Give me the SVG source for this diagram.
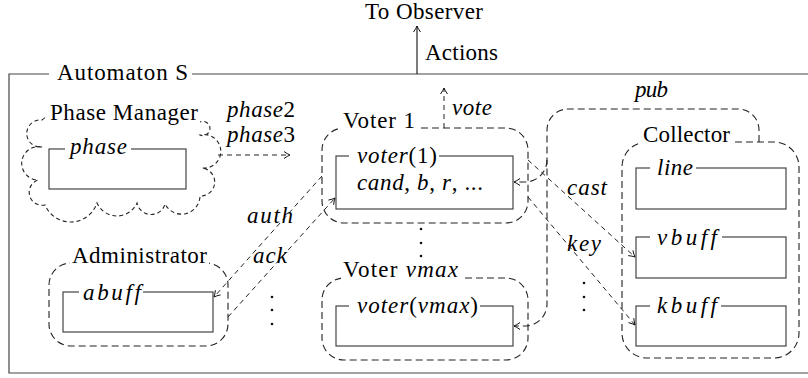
<svg xmlns="http://www.w3.org/2000/svg" width="808" height="378" viewBox="0 0 808 378">
  <rect width="808" height="378" fill="#fff"/>

  <!-- outer automaton frame -->
  <g id="automaton">
    <path d="M49,74 H9 V373 H808 M192,74 H808" fill="none" stroke="#444" stroke-width="1.2"/>
    <text x="57" y="80" font-size="23" font-family="'Liberation Serif', serif" textLength="131" lengthAdjust="spacing">Automaton S</text>
  </g>

  <!-- observer output -->
  <g id="observer">
    <text x="365" y="19" font-size="23" font-family="'Liberation Serif', serif" textLength="118" lengthAdjust="spacing">To Observer</text>
    <text x="425" y="60" font-size="23" font-family="'Liberation Serif', serif" textLength="73" lengthAdjust="spacing">Actions</text>
  </g>

  <!-- connectors -->
  <g id="connectors" fill="none" stroke="#222" stroke-width="1">
    <path d="M417,74 V26" stroke="#111" stroke-width="1.1"/>
    <g stroke-dasharray="5 4">
      <path d="M444,128 V88"/>
      <path d="M218,155 H290"/>
      <path d="M322,176 L214,297"/>
      <path d="M228,317 L335,198"/>
      <path d="M528,160 L635,257"/>
      <path d="M528,197 L635,325"/>
    </g>
    <g stroke-dasharray="7 4" stroke-width="1.1">
      <path d="M759,142 V130 A21,21 0 0 0 738,109 H568 A21,21 0 0 0 547,130 V304 A22,22 0 0 1 525,326 H514"/>
      <path d="M547,160 A22,22 0 0 1 525,182 H514"/>
    </g>
    <!-- open arrow tips -->
    <g stroke="#111">
      <path d="M420.5,32 Q418,28.5 417,26 Q416,28.5 413.5,32"/>
      <path d="M447.5,94 Q445,90.5 444,88 Q443,90.5 440.5,94"/>
      <path d="M284,158.5 Q287.5,156 290,155 Q287.5,154 284,151.5"/>
      <path d="M220.6,294.9 Q216.4,295.8 214,297 Q214.9,294.5 215.4,290.2"/>
      <path d="M333.6,204.8 Q334.1,200.5 335,198 Q332.6,199.2 328.4,200.1"/>
      <path d="M628.2,255.6 Q632.5,256.1 635,257 Q633.8,254.6 632.9,250.4"/>
      <path d="M628.5,322.6 Q632.6,323.7 635,325 Q634.2,322.4 633.8,318.2"/>
      <path d="M520,322.5 Q516.5,325 514,326 Q516.5,327 520,329.5"/>
      <path d="M520,178.5 Q516.5,181 514,182 Q516.5,183 520,185.5"/>
    </g>
  </g>

  <!-- connector labels -->
  <g id="connector-labels">
    <text x="227" y="117" font-size="23" font-family="'Liberation Serif', serif" textLength="68" lengthAdjust="spacing"><tspan font-family="'Liberation Serif', serif" font-style="italic">phase</tspan><tspan font-family="'Liberation Serif', serif">2</tspan></text>
    <text x="227" y="142" font-size="23" font-family="'Liberation Serif', serif" textLength="68" lengthAdjust="spacing"><tspan font-family="'Liberation Serif', serif" font-style="italic">phase</tspan><tspan font-family="'Liberation Serif', serif">3</tspan></text>
    <text x="452" y="115" font-size="23" font-family="'Liberation Serif', serif" font-style="italic" textLength="40" lengthAdjust="spacing">vote</text>
    <text x="247" y="223" font-size="23" font-family="'Liberation Serif', serif" font-style="italic" textLength="46" lengthAdjust="spacing">auth</text>
    <text x="253" y="263" font-size="23" font-family="'Liberation Serif', serif" font-style="italic" textLength="34" lengthAdjust="spacing">ack</text>
    <text x="567" y="195" font-size="23" font-family="'Liberation Serif', serif" font-style="italic" textLength="40" lengthAdjust="spacing">cast</text>
    <text x="567" y="251" font-size="23" font-family="'Liberation Serif', serif" font-style="italic" textLength="34" lengthAdjust="spacing">key</text>
    <text x="635" y="97" font-size="23" font-family="'Liberation Serif', serif" font-style="italic" textLength="33" lengthAdjust="spacing">pub</text>
  </g>

  <!-- continuation dots -->
  <g id="dots" fill="#111">
    <circle cx="421" cy="229" r="1.3"/>
    <circle cx="421" cy="243" r="1.3"/>
    <circle cx="421" cy="256" r="1.3"/>
    <circle cx="272" cy="297" r="1.3"/>
    <circle cx="272" cy="310" r="1.3"/>
    <circle cx="272" cy="324" r="1.3"/>
    <circle cx="584" cy="283" r="1.3"/>
    <circle cx="584" cy="297" r="1.3"/>
    <circle cx="584" cy="310" r="1.3"/>
  </g>

  <!-- phase manager -->
  <g id="phase-manager">
    <path d="M42,120 A36.6,36.6 0 0 1 85,117 A32,32 0 0 1 125,117 A32,32 0 0 1 165,117 A25.9,25.9 0 0 1 200,122 A7.1,7.1 0 1 1 200,135 A16.8,16.8 0 1 1 202,168 A14.04,14.04 0 0 1 200,196 A18.5,18.5 0 0 1 165,204 A14.4,14.4 0 0 1 137,203 A21.9,21.9 0 0 1 97,203 A27.8,27.8 0 0 1 45,205 A13,13 0 0 1 38,180 A16.7,16.7 0 1 1 42,147 A13.6,13.6 0 1 1 42,120 Z" fill="none" stroke="#222" stroke-width="1.1" stroke-dasharray="4 3"/>
    <rect x="47" y="101" width="153" height="23" fill="#fff"/>
    <text x="50" y="120" font-size="23" font-family="'Liberation Serif', serif" textLength="148" lengthAdjust="spacing">Phase Manager</text>
    <rect x="49" y="149" width="137" height="40" fill="none" stroke="#333" stroke-width="1.1"/>
    <rect x="65" y="141" width="66" height="16" fill="#fff"/>
    <text x="70" y="154" font-size="23" font-family="'Liberation Serif', serif" font-style="italic" textLength="57" lengthAdjust="spacing">phase</text>
  </g>

  <!-- voter 1 -->
  <g id="voter-1">
    <rect x="322" y="128" width="206" height="95" rx="22" fill="none" stroke="#222" stroke-width="1.1" stroke-dasharray="7 4"/>
    <rect x="341" y="110" width="76" height="21" fill="#fff"/>
    <text x="343" y="128" font-size="23" font-family="'Liberation Serif', serif" textLength="72" lengthAdjust="spacing">Voter 1</text>
    <rect x="336" y="156" width="177" height="53" fill="none" stroke="#333" stroke-width="1.1"/>
    <rect x="349" y="146" width="90" height="18" fill="#fff"/>
    <text x="357" y="163" font-size="23" font-family="'Liberation Serif', serif" textLength="80" lengthAdjust="spacing"><tspan font-family="'Liberation Serif', serif" font-style="italic">voter</tspan><tspan font-family="'Liberation Serif', serif">(1)</tspan></text>
    <text x="357" y="190" font-size="23" font-family="'Liberation Serif', serif" textLength="126" lengthAdjust="spacing"><tspan font-family="'Liberation Serif', serif" font-style="italic">cand</tspan><tspan font-family="'Liberation Serif', serif">, </tspan><tspan font-family="'Liberation Serif', serif" font-style="italic">b</tspan><tspan font-family="'Liberation Serif', serif">, </tspan><tspan font-family="'Liberation Serif', serif" font-style="italic">r</tspan><tspan font-family="'Liberation Serif', serif">, ...</tspan></text>
  </g>

  <!-- voter vmax -->
  <g id="voter-vmax">
    <rect x="322" y="278" width="206" height="82" rx="22" fill="none" stroke="#222" stroke-width="1.1" stroke-dasharray="7 4"/>
    <rect x="341" y="260" width="120" height="21" fill="#fff"/>
    <text x="343" y="277" font-size="23" font-family="'Liberation Serif', serif" textLength="115" lengthAdjust="spacing"><tspan font-family="'Liberation Serif', serif">Voter </tspan><tspan font-family="'Liberation Serif', serif" font-style="italic">vmax</tspan></text>
    <rect x="336" y="306" width="177" height="40" fill="none" stroke="#333" stroke-width="1.1"/>
    <rect x="349" y="296" width="131" height="18" fill="#fff"/>
    <text x="357" y="313" font-size="23" font-family="'Liberation Serif', serif" textLength="121" lengthAdjust="spacing"><tspan font-family="'Liberation Serif', serif" font-style="italic">voter</tspan><tspan font-family="'Liberation Serif', serif">(</tspan><tspan font-family="'Liberation Serif', serif" font-style="italic">vmax</tspan><tspan font-family="'Liberation Serif', serif">)</tspan></text>
  </g>

  <!-- administrator -->
  <g id="administrator">
    <rect x="49" y="263" width="179" height="83" rx="22" fill="none" stroke="#222" stroke-width="1.1" stroke-dasharray="7 4"/>
    <rect x="70" y="246" width="139" height="20" fill="#fff"/>
    <text x="72" y="263" font-size="23" font-family="'Liberation Serif', serif" textLength="135" lengthAdjust="spacing">Administrator</text>
    <rect x="63" y="292" width="150" height="40" fill="none" stroke="#333" stroke-width="1.1"/>
    <rect x="79" y="283" width="64" height="17" fill="#fff"/>
    <text x="83" y="300" font-size="23" font-family="'Liberation Serif', serif" font-style="italic" textLength="58" lengthAdjust="spacing">abuff</text>
  </g>

  <!-- collector -->
  <g id="collector">
    <rect x="622" y="142" width="177" height="216" rx="25" fill="none" stroke="#222" stroke-width="1.1" stroke-dasharray="7 4"/>
    <rect x="640" y="125" width="92" height="20" fill="#fff"/>
    <text x="643" y="142" font-size="23" font-family="'Liberation Serif', serif" textLength="87" lengthAdjust="spacing">Collector</text>
    <rect x="636" y="168" width="150" height="41" fill="none" stroke="#333" stroke-width="1.1"/>
    <rect x="650" y="160" width="46" height="16" fill="#fff"/>
    <text x="657" y="175" font-size="23" font-family="'Liberation Serif', serif" font-style="italic" textLength="36" lengthAdjust="spacing">line</text>
    <rect x="636" y="237" width="150" height="41" fill="none" stroke="#333" stroke-width="1.1"/>
    <rect x="650" y="229" width="72" height="16" fill="#fff"/>
    <text x="657" y="245" font-size="23" font-family="'Liberation Serif', serif" font-style="italic" textLength="60" lengthAdjust="spacing">vbuff</text>
    <rect x="636" y="306" width="150" height="40" fill="none" stroke="#333" stroke-width="1.1"/>
    <rect x="650" y="298" width="71" height="16" fill="#fff"/>
    <text x="657" y="313" font-size="23" font-family="'Liberation Serif', serif" font-style="italic" textLength="60" lengthAdjust="spacing">kbuff</text>
  </g>
</svg>
